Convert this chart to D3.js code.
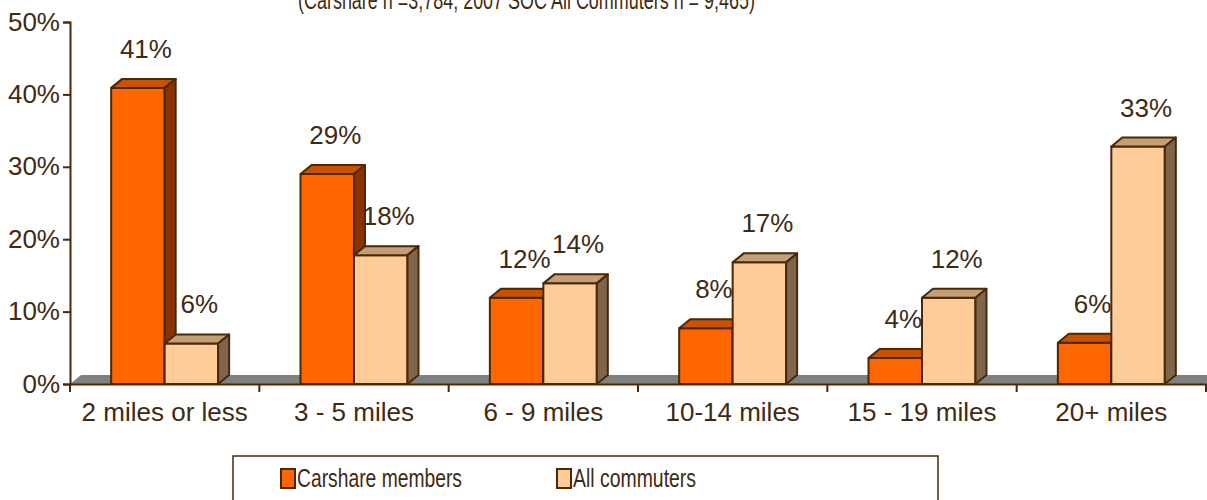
<!DOCTYPE html>
<html><head><meta charset="utf-8">
<script src="https://cdn.jsdelivr.net/npm/d3@7"></script>
<style>
body{margin:0;background:#fff}
text{font-family:"Liberation Sans",Arial,sans-serif;fill:#3f2a12}
</style>
</head><body><svg id="c" width="1207" height="500"></svg>
<script>
const categories = ["2 miles or less","3 - 5 miles","6 - 9 miles","10-14 miles","15 - 19 miles","20+ miles"];
const carshareMembers = [40.9, 29.0, 11.9, 7.7, 3.6, 5.7];
const allCommuters = [5.6, 17.8, 13.9, 16.8, 11.9, 32.8];
const seriesNames = ["Carshare members","All commuters"];
const yTicks = [0,10,20,30,40,50];
const titleText = "(Carshare n =3,784; 2007 SOC All Commuters n = 9,465)";

(function(){
const svg = d3.select("#c");
const W = 1207;
const mLeft = 70, mRight = 1206, mTop = 22, mBottom = 384;
const dx = 11, dy = -9;
const ink = "#4a2808";
const colors = [
  {front:"#ff6600", top:"#c95200", side:"#8a3300"},
  {front:"#ffcc99", top:"#c49e76", side:"#7f654c"}
];

const x0 = d3.scaleBand().domain(categories).range([mLeft, mRight]).padding(0);
const x1 = d3.scaleBand().domain(seriesNames).range([0, x0.bandwidth()]).paddingInner(0).paddingOuter(0.77);
const y = d3.scaleLinear().domain([0, 50]).range([mBottom, mTop]);

// title (partially cut off at top, as in the source image)
svg.append("text").attr("x", 526.5).attr("y", 9).attr("text-anchor","middle")
  .attr("font-size", 26).attr("textLength", 457).attr("lengthAdjust","spacingAndGlyphs")
  .text(titleText);

// floor
svg.append("path")
  .attr("d", `M${mLeft},${y(0)} L${mLeft+dx},${y(0)+dy} L${W+dx},${y(0)+dy} L${W},${y(0)} Z`)
  .attr("fill", "#808080");

// y axis
const yAxis = d3.axisLeft(y).tickValues(yTicks).tickFormat(d => d + "%").tickSize(7).tickPadding(3);
const gy = svg.append("g").attr("transform", `translate(${mLeft},0)`).call(yAxis);
gy.select(".domain").attr("stroke", ink).attr("stroke-width", 2);
gy.selectAll(".tick line").attr("stroke", ink).attr("stroke-width", 2);
gy.selectAll(".tick text").attr("font-size", 26).attr("font-family", "Liberation Sans, Arial, sans-serif")
  .attr("fill", "#3f2a12").attr("dy", "0.31em");

// bars
const data = [];
categories.forEach((c, i) => {
  [carshareMembers[i], allCommuters[i]].forEach((v, s) => data.push({c, s, v}));
});
const gb = svg.append("g").attr("stroke", ink).attr("stroke-width", 2).attr("stroke-linejoin", "round");
data.forEach(d => {
  const x = x0(d.c) + x1(seriesNames[d.s]);
  const w = x1.bandwidth();
  const yt = y(d.v), yb = y(0);
  const col = colors[d.s];
  gb.append("rect").attr("x", x).attr("y", yt).attr("width", w).attr("height", yb - yt).attr("fill", col.front);
  gb.append("path").attr("d", `M${x},${yt} L${x+dx},${yt+dy} L${x+w+dx},${yt+dy} L${x+w},${yt} Z`).attr("fill", col.top);
  gb.append("path").attr("d", `M${x+w},${yt} L${x+w+dx},${yt+dy} L${x+w+dx},${yb+dy} L${x+w},${yb} Z`).attr("fill", col.side);
});

// x axis
const xAxis = d3.axisBottom(x0).tickSize(0).tickPadding(0);
const gx = svg.append("g").attr("transform", `translate(0,${mBottom})`).call(xAxis);
gx.select(".domain").attr("stroke", ink).attr("stroke-width", 2);
gx.selectAll(".tick text").attr("font-size", 26).attr("font-family", "Liberation Sans, Arial, sans-serif")
  .attr("fill", "#3f2a12").attr("y", 37).attr("dy", 0);
// category boundary ticks
const bounds = categories.map(c => x0(c)).concat([x0(categories[categories.length-1]) + x0.bandwidth()]);
svg.append("g").selectAll("line").data(bounds).join("line")
  .attr("x1", d => d).attr("x2", d => d).attr("y1", mBottom).attr("y2", mBottom + 8)
  .attr("stroke", ink).attr("stroke-width", 2);

// data labels
svg.append("g").selectAll("text").data(data).join("text")
  .attr("x", d => x0(d.c) + x1(seriesNames[d.s]) + x1.bandwidth()/2 + 8)
  .attr("y", d => y(d.v) - 30)
  .attr("text-anchor", "middle").attr("font-size", 26)
  .text(d => Math.round(d.v) + "%");

// legend
const lg = svg.append("g");
lg.append("rect").attr("x", 233).attr("y", 456).attr("width", 705).attr("height", 60)
  .attr("fill", "none").attr("stroke", ink).attr("stroke-width", 1.5);
const legendX = [281, 557];
const legendW = [165, 123];
seriesNames.forEach((n, s) => {
  lg.append("rect").attr("x", legendX[s]).attr("y", 469).attr("width", 14).attr("height", 19)
    .attr("fill", colors[s].front).attr("stroke", ink).attr("stroke-width", 2);
  lg.append("text").attr("x", legendX[s] + 16).attr("y", 487).attr("font-size", 26)
    .attr("textLength", legendW[s]).attr("lengthAdjust", "spacingAndGlyphs").text(n);
});
})();
</script>
</body></html>
